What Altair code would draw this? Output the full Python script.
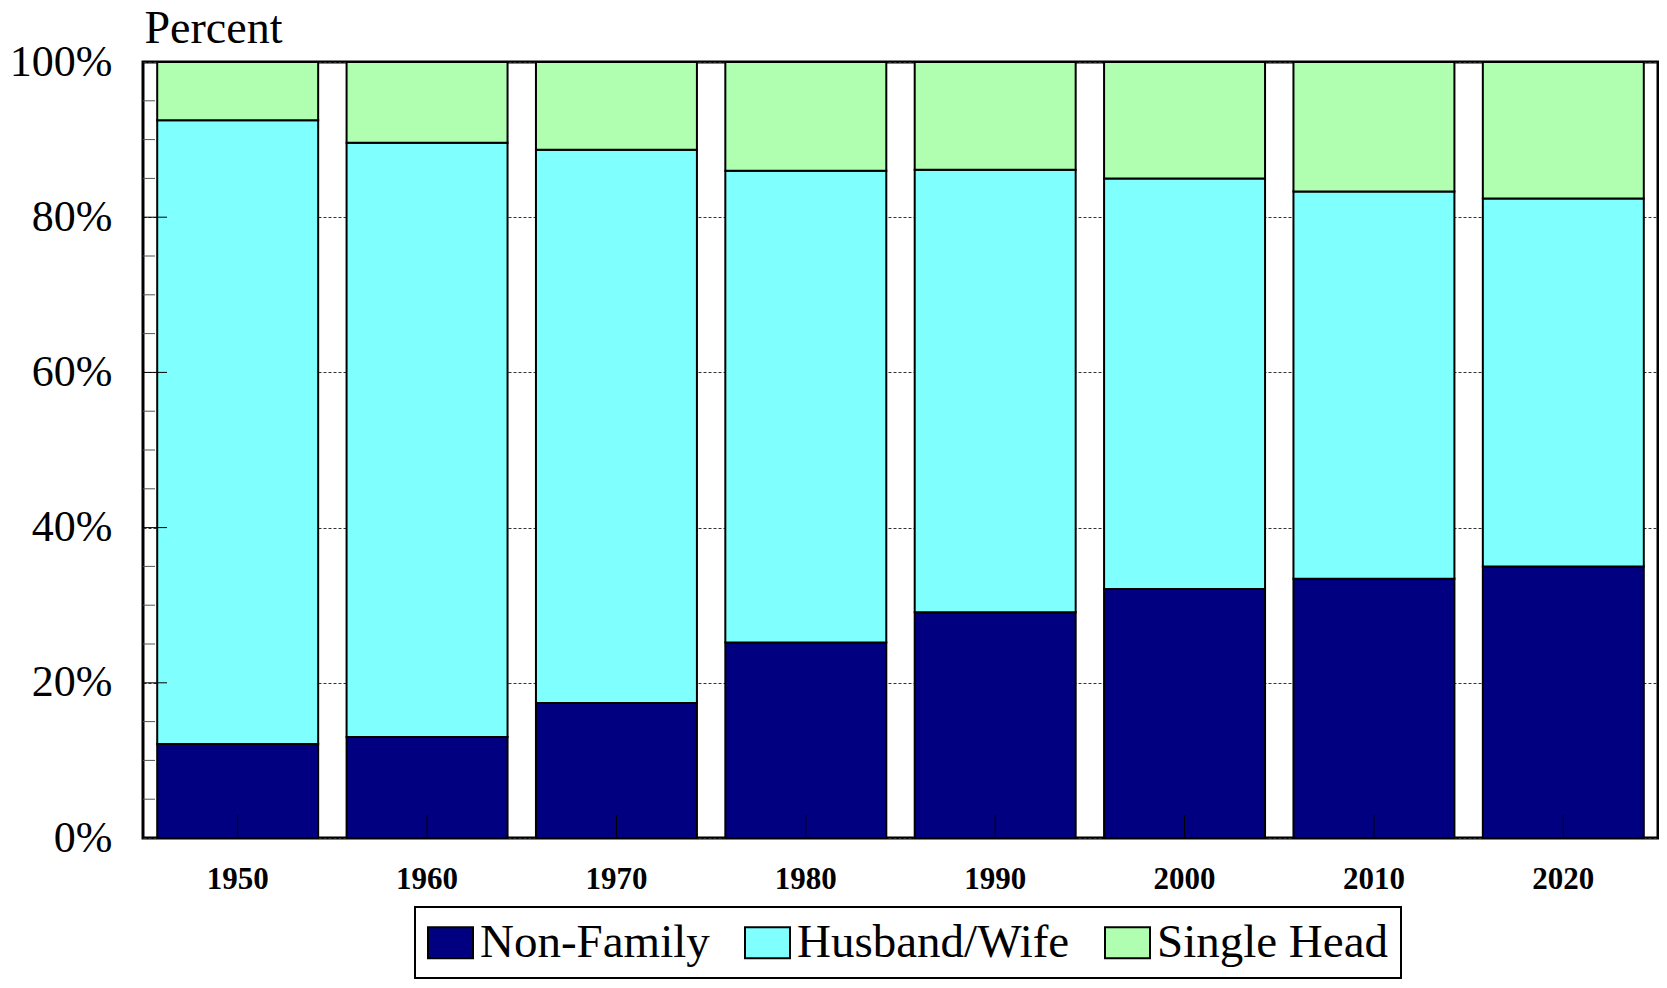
import altair as alt
import pandas as pd

years = ["1950", "1960", "1970", "1980", "1990", "2000", "2010", "2020"]
series = ["Non-Family", "Husband/Wife", "Single Head"]
colors = ["#000080", "#80FFFF", "#B0FFB0"]
non_family = [12.1, 13.0, 17.4, 25.2, 29.1, 32.1, 33.4, 35.0]
husband_wife = [80.4, 76.6, 71.3, 60.8, 57.0, 52.9, 49.9, 47.4]
single_head = [7.5, 10.4, 11.3, 14.0, 13.9, 15.0, 16.7, 17.6]
y_label_values = [0, 20, 40, 60, 80, 100]
y_minor_ticks = [5, 10, 15, 25, 30, 35, 45, 50, 55, 65, 70, 75, 85, 90, 95]
y_major_ticks = [20, 40, 60, 80]

rows = []
for i, y in enumerate(years):
    for k, (name, vals) in enumerate(zip(series, [non_family, husband_wife, single_head])):
        rows.append({"Year": y, "Type": name, "value": vals[i], "k": k})
df = pd.DataFrame(rows)

SERIF = "Liberation Serif"
yscale = alt.Scale(domain=[0, 100], nice=False, zero=True)
xscale = alt.Scale(paddingInner=0.15, paddingOuter=0.075)

xaxis = alt.Axis(title=None, labelAngle=0, ticks=False, domain=False, grid=False,
                 labelFont=SERIF, labelFontWeight="bold", labelFontSize=31,
                 labelColor="black", labelPadding=50, labelBaseline="alphabetic")
yaxis = alt.Axis(values=y_label_values, labelExpr="datum.value + '%'",
                 ticks=False, domain=False, grid=True, gridDash=[3, 2],
                 gridColor="#333333", gridWidth=1,
                 labelFont=SERIF, labelFontSize=44, labelColor="black",
                 labelPadding=31, labelBaseline="middle",
                 title="Percent", titleAngle=0, titleAlign="left",
                 titleBaseline="alphabetic", titleX=1, titleY=-20,
                 titleFont=SERIF, titleFontSize=46, titleFontWeight="normal",
                 titleColor="black")

bars = alt.Chart(df).mark_bar(stroke="black", strokeWidth=2).encode(
    x=alt.X("Year:N", sort=years, scale=xscale, axis=xaxis),
    y=alt.Y("value:Q", stack="zero", scale=yscale, axis=yaxis),
    color=alt.Color("Type:N", sort=series,
                    scale=alt.Scale(domain=series, range=colors),
                    legend=alt.Legend(title=None, orient="none", direction="horizontal",
                                      legendX=272, legendY=845,
                                      strokeColor="black", fillColor="white",
                                      padding=12, columnPadding=31,
                                      symbolType="M-1,-0.69H1V0.69H-1Z", symbolSize=2025,
                                      symbolStrokeColor="black", symbolStrokeWidth=2,
                                      symbolOpacity=1,
                                      labelFont=SERIF, labelFontSize=47, labelColor="black",
                                      labelLimit=0, labelOffset=6)),
    order=alt.Order("k:Q", sort="ascending"),
)

minor = alt.Chart(pd.DataFrame({"value": y_minor_ticks})).mark_rule(
    color="#555555", strokeWidth=1).encode(
    y=alt.Y("value:Q", scale=yscale, axis=yaxis),
    x=alt.value(0), x2=alt.value(12),
)

major = alt.Chart(pd.DataFrame({"value": y_major_ticks})).mark_rule(
    color="black", strokeWidth=1).encode(
    y=alt.Y("value:Q", scale=yscale, axis=yaxis),
    x=alt.value(0), x2=alt.value(24),
)

xticks = alt.Chart(pd.DataFrame({"Year": years})).mark_rule(
    color="black", strokeWidth=1).encode(
    x=alt.X("Year:N", sort=years, scale=xscale, axis=xaxis),
    y=alt.value(753), y2=alt.value(776),
)

chart = alt.layer(bars, minor, major, xticks).properties(
    width=1515, height=776,
    padding={"left": 135, "top": 54, "right": 1, "bottom": 142},
    autosize=alt.AutoSizeParams(type="none"),
    background="white",
).configure_view(stroke="black", strokeWidth=3).configure_legend(strokeWidth=2)

chart.save("out.html", embed_options={"renderer": "svg", "actions": False})
